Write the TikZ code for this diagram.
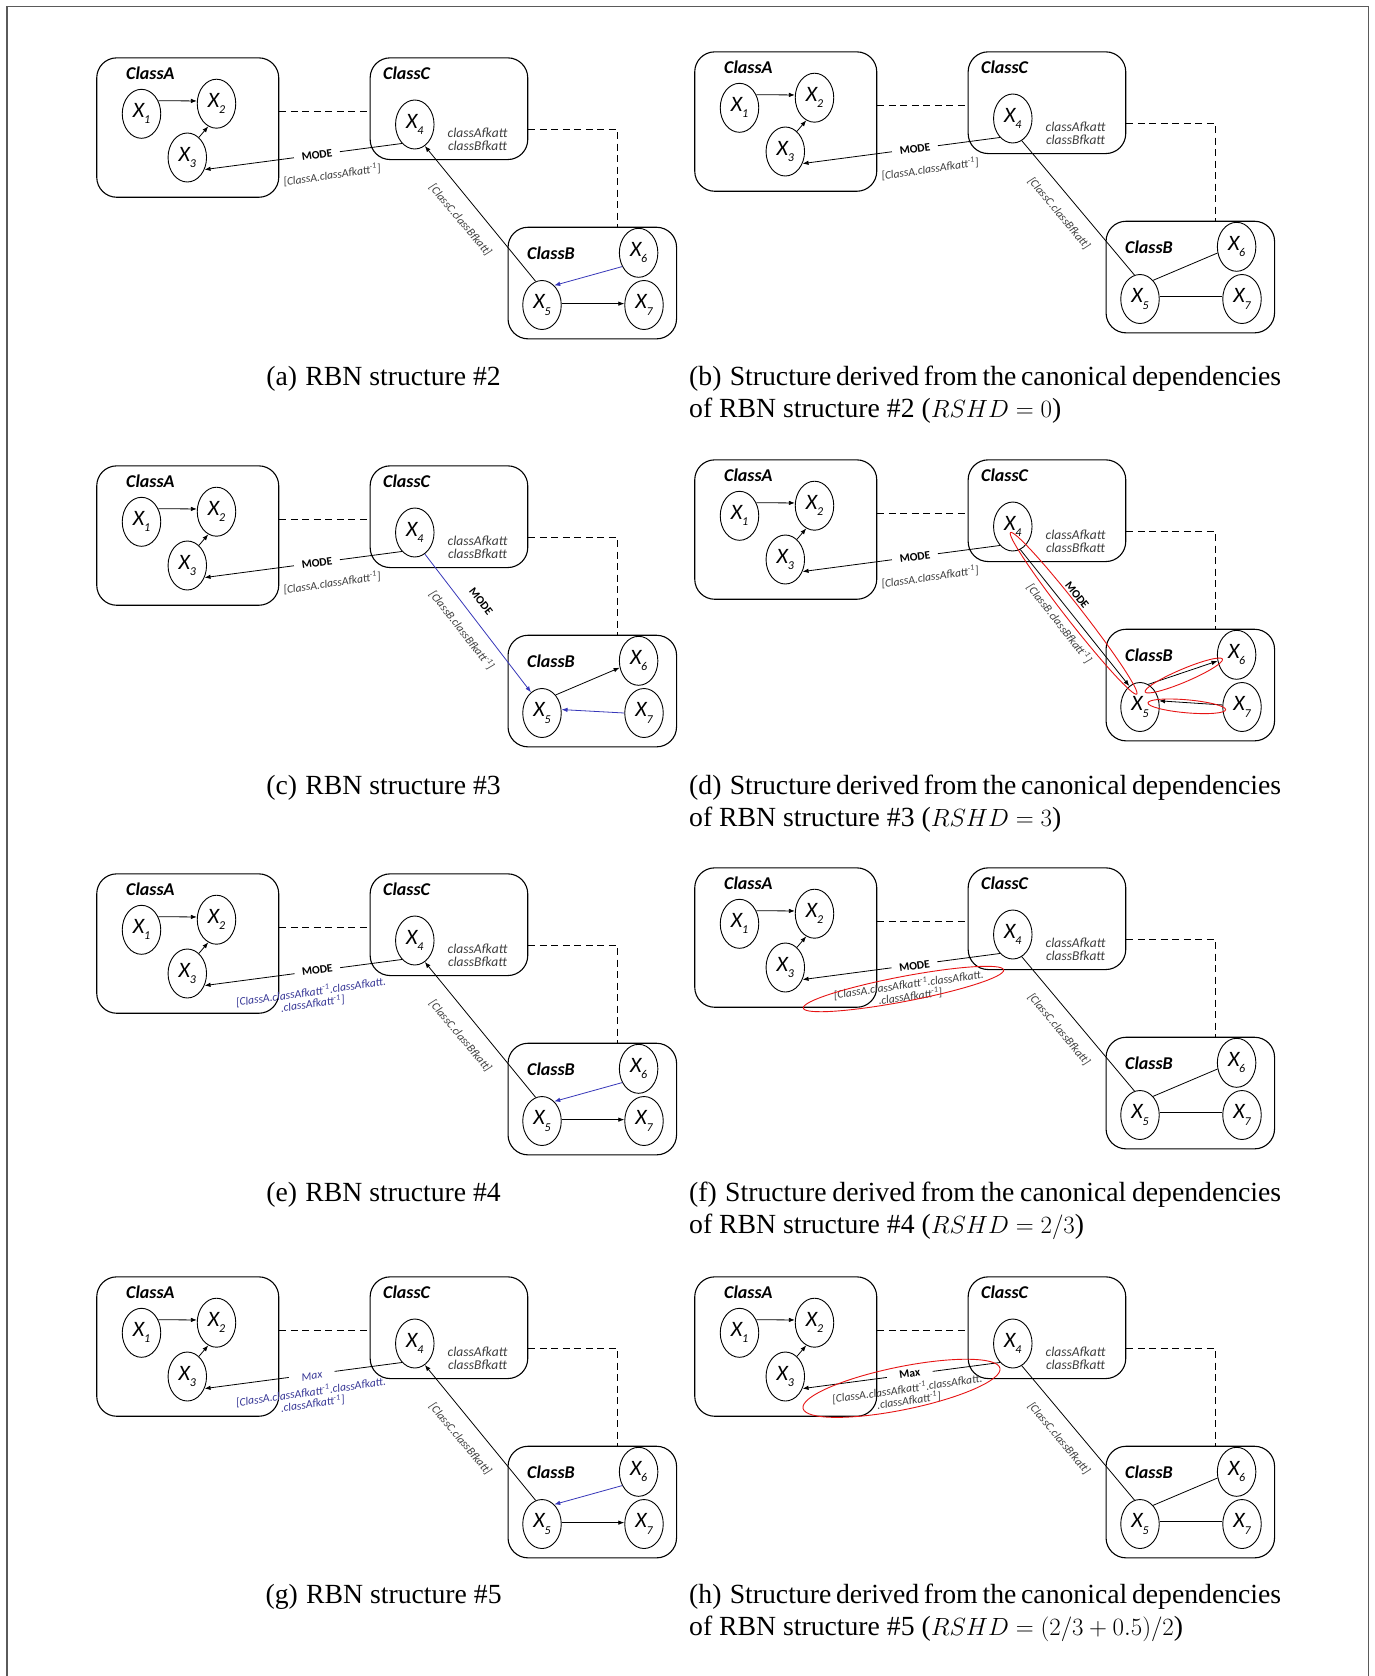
\documentclass[tikz,border=0pt]{standalone}
\usepackage{fontspec}
\setmainfont{Liberation Serif}
\setsansfont{Carlito}
\usetikzlibrary{shapes.geometric,arrows.meta,calc}

\definecolor{lblgray}{RGB}{60,60,60}
\definecolor{bluetxt}{RGB}{55,55,150}
\definecolor{bluearr}{RGB}{55,55,185}
\definecolor{framegray}{RGB}{90,90,90}
\definecolor{hlred}{RGB}{230,20,20}

\newcommand\xv[1]{X\kern-0.3pt\raisebox{-0.28em}{\fontsize{12}{12}\selectfont #1}}
\newcommand\myinv{\textsuperscript{-1}}

\tikzset{
  classbox/.style={draw, rectangle, rounded corners=20pt, line width=1.1pt, inner sep=0pt, anchor=north west},
  varnode/.style={draw, ellipse, line width=0.9pt, minimum width=38.5pt, minimum height=49pt, inner sep=0pt,
    font=\sffamily\itshape\fontsize{22}{22}\selectfont},
  clsname/.style={font=\sffamily\bfseries\itshape\fontsize{18}{18}\selectfont, anchor=west, inner sep=0pt},
  attr/.style={font=\sffamily\itshape\fontsize{13.5}{13.5}\selectfont, align=center, text=lblgray, inner sep=0pt},
  lbl/.style={font=\sffamily\itshape\fontsize{11.5}{12}\selectfont, text=lblgray, inner sep=1pt, align=center},
  bluelbl/.style={lbl, text=bluetxt},
  modelbl/.style={font=\sffamily\bfseries\fontsize{11.5}{12}\selectfont, inner sep=1pt},
  gaplbl/.style={modelbl, fill=white, minimum width=46pt},
  arr/.style={-{Latex[length=6pt,width=4.5pt]}, line width=0.8pt},
  barr/.style={arr, draw=bluearr},
  link/.style={line width=0.8pt},
  dashlink/.style={dash pattern=on 7pt off 4.5pt, line width=1pt},
  hl/.style={draw=hlred, ellipse, line width=0.9pt, inner sep=0pt},
  capfont/.style={font=\fontsize{27.7}{32}\selectfont, inner sep=0pt},
}

\newcommand\panelbase[1]{%
  \node[classbox, minimum width=182pt, minimum height=139.4pt] (#1A) at (96.2,57.3) {};
  \node[classbox, minimum width=157.6pt, minimum height=101.7pt] (#1C) at (369.6,57.3) {};
  \node[classbox, minimum width=168.5pt, minimum height=111.6pt] (#1B) at (507.5,226.7) {};
  \node[clsname] (#1An) at (126,73.3) {ClassA};
  \node[clsname] (#1Cn) at (383,73.3) {ClassC};
  \node[clsname] (#1Bn) at (527,253.3) {ClassB};
  \node[attr] (#1att) at (477.5,139.3) {classAfkatt\\classBfkatt};
  \node[varnode] (#1X1) at (141.5,113.8) {\xv1};
  \node[varnode] (#1X2) at (216.5,103.7) {\xv2};
  \node[varnode] (#1X3) at (187.3,157.5) {\xv3};
  \node[varnode] (#1X4) at (414.8,124.5) {\xv4};
  \node[varnode] (#1X5) at (542,305) {\xv5};
  \node[varnode] (#1X6) at (638.6,252.8) {\xv6};
  \node[varnode] (#1X7) at (644,305) {\xv7};
  \draw[dashlink] (#1A.east |- 0,111) -- (#1C.west |- 0,111);
  \draw[dashlink] (#1C.east |- 0,129.3) -| (#1B.north -| 617.5,0);
  \draw[arr] (#1X1.38) -- (#1X2.172);
  \draw[arr] (#1X3.60) -- (#1X2.250);
  \draw[arr] (#1X4.236) -- (#1X3.325);
}

\begin{document}
\begin{tikzpicture}[x=1pt,y=-1pt]
\useasboundingbox (0,0) rectangle (1375,1676);
\fill[white] (0,0) rectangle (1375,1676);
\draw[framegray, line width=1.2pt] (7,1676) -- (7,6.5) -- (1368.5,6.5) -- (1368.5,1676);

% ---------- (a)
\begin{scope}
  \panelbase{a}
  \node[gaplbl, rotate=8] (aM) at (317,155) {MODE};
  \node[lbl, rotate=8] (aL) at (332,175) {[ClassA.classAfkatt\myinv]};
  \draw[arr] (aX5.105) -- (aX4.295);
  \node[lbl, rotate=-50] (aL2) at (460.3,220) {[ClassC.classBfkatt]};
  \draw[barr] (aX6.220) -- (aX5.58);
  \draw[arr] (aX5.4) -- (aX7.176);
\end{scope}

% ---------- (b)
\begin{scope}[shift={(598,-6)}]
  \panelbase{b}
  \node[gaplbl, rotate=8] (bM) at (317,155) {MODE};
  \node[lbl, rotate=8] (bL) at (332,175) {[ClassA.classAfkatt\myinv]};
  \draw[link] (bX4.292) -- (bX5.103);
  \node[lbl, rotate=-50] (bL2) at (461,219.3) {[ClassC.classBfkatt]};
  \draw[link] (bX5.55) -- (bX6.198);
  \draw[link] (bX5.8) -- (bX7.172);
\end{scope}

% ---------- (c)
\begin{scope}[shift={(0,408)}]
  \panelbase{c}
  \node[gaplbl, rotate=8] (cM) at (317,155) {MODE};
  \node[lbl, rotate=8] (cL) at (332,175) {[ClassA.classAfkatt\myinv]};
  \draw[barr] (cX4.295) -- (cX5.118);
  \node[modelbl, rotate=-52] (cM2) at (481,193.7) {MODE};
  \node[lbl, rotate=-52] (cL2) at (462,222) {[ClassB.classBfkatt\myinv]};
  \draw[arr] (cX5.53) -- (cX6.200);
  \draw[barr] (cX7.180) -- (cX5.10);
\end{scope}

% ---------- (d)
\begin{scope}[shift={(598,402)}]
  \panelbase{d}
  \node[gaplbl, rotate=8] (dM) at (317,155) {MODE};
  \node[lbl, rotate=8] (dL) at (332,175) {[ClassA.classAfkatt\myinv]};
  \draw[arr] (dX4.288) -- (dX5.117);
  \node[hl, minimum width=205pt, minimum height=16pt, rotate=-52] (dH1) at (475.6,211.3) {};
  \node[modelbl, rotate=-52] (dM2) at (479,193) {MODE};
  \node[lbl, rotate=-52] (dL2) at (461.5,221.3) {[ClassB.classBfkatt\myinv]};
  \draw[arr] (dX5.70) -- (dX6.198);
  \node[hl, minimum width=84pt, minimum height=13pt, rotate=23] (dH2) at (585.8,273.5) {};
  \draw[arr] (dX7.174) -- (dX5.18);
  \node[hl, minimum width=78pt, minimum height=13pt, rotate=-5] (dH3) at (588.8,304.3) {};
\end{scope}

% ---------- (e)
\begin{scope}[shift={(0,816)}]
  \panelbase{e}
  \node[gaplbl, rotate=8] (eM) at (317.3,154) {MODE};
  \node[bluelbl, rotate=8] (eL) at (311.8,181.8) {[ClassA.classAfkatt\myinv.classAfkatt.\\.classAfkatt\myinv]};
  \draw[arr] (eX5.105) -- (eX4.295);
  \node[lbl, rotate=-50] (eL2) at (460.3,220) {[ClassC.classBfkatt]};
  \draw[barr] (eX6.220) -- (eX5.58);
  \draw[arr] (eX5.4) -- (eX7.176);
\end{scope}

% ---------- (f)
\begin{scope}[shift={(598,810)}]
  \panelbase{f}
  \node[gaplbl, rotate=8] (fM) at (316.5,156) {MODE};
  \node[lbl, rotate=8] (fL) at (311.5,180.5) {[ClassA.classAfkatt\myinv.classAfkatt.\\.classAfkatt\myinv]};
  \node[hl, minimum width=204pt, minimum height=25pt, rotate=10.8] (fH) at (305.5,179) {};
  \draw[link] (fX4.292) -- (fX5.103);
  \node[lbl, rotate=-50] (fL2) at (461,219.3) {[ClassC.classBfkatt]};
  \draw[link] (fX5.55) -- (fX6.198);
  \draw[link] (fX5.8) -- (fX7.172);
\end{scope}

% ---------- (g)
\begin{scope}[shift={(0,1219)}]
  \panelbase{g}
  \node[gaplbl, rotate=8, font=\sffamily\itshape\fontsize{11.5}{12}\selectfont, text=bluetxt] (gM) at (312,157) {Max};
  \node[bluelbl, rotate=8] (gL) at (311.8,179) {[ClassA.classAfkatt\myinv.classAfkatt.\\.classAfkatt\myinv]};
  \draw[arr] (gX5.105) -- (gX4.295);
  \node[lbl, rotate=-50] (gL2) at (460.3,220) {[ClassC.classBfkatt]};
  \draw[barr] (gX6.220) -- (gX5.58);
  \draw[arr] (gX5.4) -- (gX7.176);
\end{scope}

% ---------- (h)
\begin{scope}[shift={(598,1219)}]
  \panelbase{h}
  \node[gaplbl, rotate=8] (hM) at (311.7,154.3) {Max};
  \node[lbl, rotate=8] (hL) at (310.1,175.7) {[ClassA.classAfkatt\myinv.classAfkatt.\\.classAfkatt\myinv]};
  \node[hl, minimum width=201pt, minimum height=43pt, rotate=11.5] (hH) at (303.5,169.3) {};
  \draw[link] (hX4.292) -- (hX5.103);
  \node[lbl, rotate=-50] (hL2) at (461,219.3) {[ClassC.classBfkatt]};
  \draw[link] (hX5.55) -- (hX6.198);
  \draw[link] (hX5.8) -- (hX7.172);
\end{scope}

% ---------- captions
\node[capfont, anchor=base] (capa) at (383.6,385.5) {(a)\hspace{0.3em}RBN structure $\#$2};
\node[capfont, anchor=base west] (capb1) at (689,385.5) {\makebox[592pt][s]{(b)\hspace{0.3em}Structure derived from the canonical dependencies}};
\node[capfont, anchor=base west] (capb2) at (689,417.5) {of RBN structure $\#$2 ($RSHD=0$)};

\node[capfont, anchor=base] (capc) at (383.6,794) {(c)\hspace{0.3em}RBN structure $\#$3};
\node[capfont, anchor=base west] (capd1) at (689,794) {\makebox[592pt][s]{(d)\hspace{0.3em}Structure derived from the canonical dependencies}};
\node[capfont, anchor=base west] (capd2) at (689,826) {of RBN structure $\#$3 ($RSHD=3$)};

\node[capfont, anchor=base] (cape) at (383.6,1201.3) {(e)\hspace{0.3em}RBN structure $\#$4};
\node[capfont, anchor=base west] (capf1) at (689,1201.3) {\makebox[592pt][s]{(f)\hspace{0.3em}Structure derived from the canonical dependencies}};
\node[capfont, anchor=base west] (capf2) at (689,1233.3) {of RBN structure $\#$4 ($RSHD=2/3$)};

\node[capfont, anchor=base] (capg) at (383.6,1603.3) {(g)\hspace{0.3em}RBN structure $\#$5};
\node[capfont, anchor=base west] (caph1) at (689,1603.3) {\makebox[592pt][s]{(h)\hspace{0.3em}Structure derived from the canonical dependencies}};
\node[capfont, anchor=base west] (caph2) at (689,1635.3) {of RBN structure $\#$5 ($RSHD=(2/3+0.5)/2$)};
\end{tikzpicture}
\end{document}
